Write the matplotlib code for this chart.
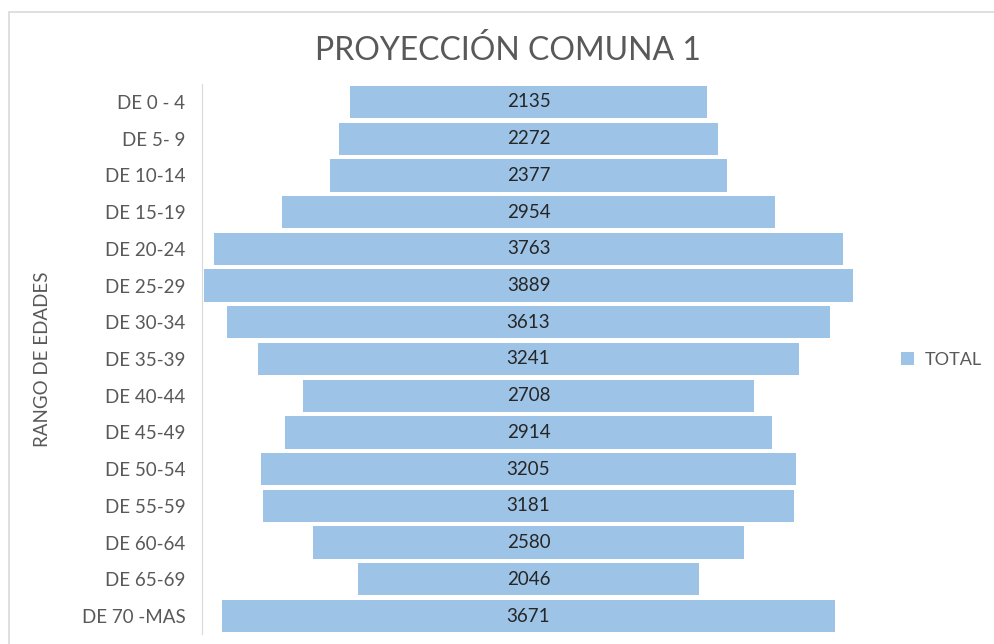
import matplotlib.pyplot as plt
from matplotlib.patches import Rectangle

plt.rcParams['font.family'] = ['Lato', 'DejaVu Sans']

rangos = ["DE 0 - 4", "DE 5- 9", "DE 10-14", "DE 15-19", "DE 20-24", "DE 25-29",
          "DE 30-34", "DE 35-39", "DE 40-44", "DE 45-49", "DE 50-54", "DE 55-59",
          "DE 60-64", "DE 65-69", "DE 70 -MAS"]
total = [2135, 2272, 2377, 2954, 3763, 3889, 3613, 3241, 2708, 2914, 3205, 3181,
         2580, 2046, 3671]

azul = "#9dc3e6"
gris = "#595959"

W, H = 994, 644
fig = plt.figure(figsize=(W / 100, H / 100), dpi=100)

# marco del gráfico
fig.patches.append(Rectangle((9 / W, -0.1), 1.1, (H - 12) / H + 0.1,
                             transform=fig.transFigure, fill=False,
                             edgecolor="#d9d9d9", linewidth=1.2))

# área de trazado (píxeles)
x0, x1 = 202, 868
y0, y1 = 83.6, 634.4
ax = fig.add_axes([x0 / W, 1 - y1 / H, (x1 - x0) / W, (y1 - y0) / H])

pos = list(range(len(rangos)))
izq = [-v / 2 for v in total]
ax.barh(pos, total, left=izq, height=0.88, color=azul, label="TOTAL")
for p, v in zip(pos, total):
    ax.text(0, p, str(v), ha="center", va="center", fontsize=13.5, color="#262626")

escala = 0.1669  # px por unidad
centro = 528.5
ax.set_xlim(-(centro - x0) / escala, (x1 - centro) / escala)
ax.set_ylim(len(rangos) - 0.5, -0.5)
ax.set_yticks(pos)
ax.set_yticklabels(rangos, fontsize=13.5, color=gris)
ax.tick_params(axis="y", length=0, pad=12)
ax.set_xticks([])
for s in ["top", "right", "bottom"]:
    ax.spines[s].set_visible(False)
ax.spines["left"].set_color("#d9d9d9")

ax.set_ylabel("RANGO DE EDADES", fontsize=13.5, color=gris, labelpad=22)

fig.text(508 / W, 1 - 50 / H, "PROYECCIÓN COMUNA 1", ha="center", va="center",
         fontsize=23, color=gris)

leg = ax.legend(loc="center left", bbox_to_anchor=(885 / W, 1 - 360 / H),
                bbox_transform=fig.transFigure, frameon=False, fontsize=13,
                handlelength=0.7, handleheight=0.7, handletextpad=0.6)
for t in leg.get_texts():
    t.set_color(gris)

fig.savefig("out.png", dpi=100)
